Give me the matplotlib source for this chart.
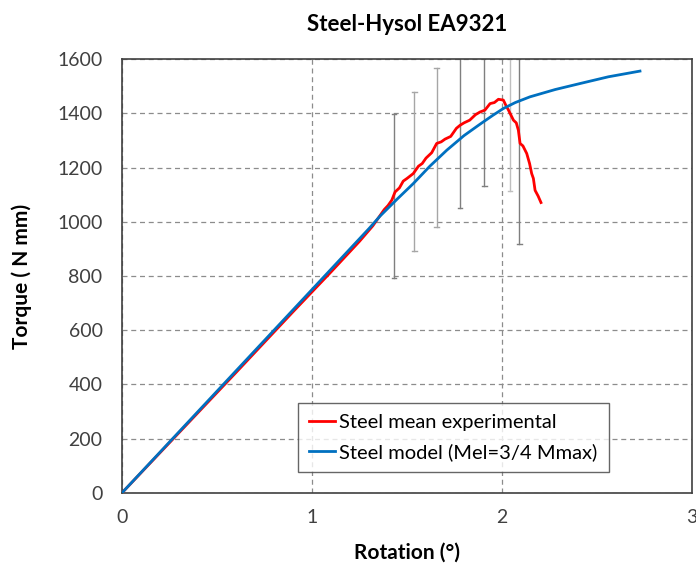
import matplotlib.pyplot as plt
import numpy as np

plt.rcParams['font.family'] = ['Lato', 'DejaVu Sans']

# mean experimental curve (Rotation deg, Torque N mm)
rot_exp = [0.0, 0.3, 0.6, 0.9, 1.1, 1.25, 1.32, 1.358, 1.38, 1.40, 1.42, 1.437, 1.46, 1.48,
           1.50, 1.533, 1.56, 1.58, 1.60, 1.63, 1.656, 1.68, 1.70, 1.73, 1.76, 1.779,
           1.80, 1.83, 1.86, 1.884, 1.91, 1.937, 1.96, 1.981, 2.007, 2.02, 2.034, 2.06,
           2.075, 2.086, 2.095, 2.11, 2.13, 2.145, 2.156, 2.165, 2.174, 2.19, 2.205]
torque_exp = [0, 222, 444, 668, 815, 928, 985, 1023, 1045, 1060, 1080, 1110, 1125, 1150,
              1160, 1178, 1205, 1215, 1235, 1255, 1289, 1295, 1305, 1315, 1345, 1356,
              1365, 1375, 1395, 1405, 1412, 1436, 1440, 1452, 1449, 1430, 1412, 1375,
              1365, 1338, 1289, 1280, 1252, 1215, 1178, 1160, 1116, 1095, 1071]

# model curve
rot_mod = [0.0, 0.5, 1.0, 1.2, 1.30, 1.358, 1.45, 1.533, 1.62, 1.709, 1.80, 1.884, 1.95,
           2.007, 2.07, 2.147, 2.28, 2.41, 2.56, 2.726]
torque_mod = [0, 375, 750, 900, 975, 1021, 1085, 1141, 1205, 1264, 1318, 1360, 1392,
              1418, 1440, 1461, 1488, 1510, 1535, 1556]

# scatter bars
rot_bar = [1.432, 1.538, 1.656, 1.779, 1.907, 2.042, 2.091]
bar_low = [791, 892, 980, 1051, 1131, 1112, 919]
bar_high = [1397, 1479, 1568, 1640, 1690, 1690, 1680]
bar_col = ['#7f7f7f', '#a6a6a6', '#a6a6a6', '#7f7f7f', '#7f7f7f', '#bfbfbf', '#7f7f7f']

fig = plt.figure(figsize=(6.96, 5.70), dpi=100)
ax = fig.add_axes([0.1753, 0.1354, 0.8190, 0.7608])

for x, lo, hi, c in zip(rot_bar, bar_low, bar_high, bar_col):
    ax.plot([x, x], [lo, hi], color=c, lw=1.0, zorder=2)
    ax.plot([x - 0.012, x + 0.012], [lo, lo], color=c, lw=1.0, zorder=2)
    ax.plot([x - 0.012, x + 0.012], [hi, hi], color=c, lw=1.0, zorder=2)

ax.plot(rot_exp, torque_exp, color='#ff0000', lw=2.0, zorder=3,
        label='Steel mean experimental')
ax.plot(rot_mod, torque_mod, color='#0070c0', lw=2.0, zorder=4,
        label='Steel model (Mel=3/4 Mmax)')

ax.set_xlim(0, 3)
ax.set_ylim(0, 1600)
ax.set_xticks([0, 1, 2, 3])
ax.set_yticks(np.arange(0, 1601, 200))
ax.tick_params(length=0, labelsize=14, colors='#404040')
ax.tick_params(axis='x', pad=12)
ax.tick_params(axis='y', pad=14)
ax.grid(True, ls=(0, (4, 3)), color='#8c8c8c', lw=0.9)
for s in ax.spines.values():
    s.set_color('#404040')
    s.set_linewidth(1.2)

ax.set_xlabel('Rotation (°)', fontsize=15, fontweight='bold', labelpad=12)
ax.set_ylabel('Torque ( N mm)', fontsize=15, fontweight='bold', labelpad=18)
ax.set_title('Steel-Hysol EA9321', fontsize=16, fontweight='bold', pad=20)

leg = ax.legend(loc='lower left', bbox_to_anchor=(0.309, 0.048), fontsize=14.5,
                frameon=True, fancybox=False, handlelength=1.3, handletextpad=0.2,
                borderpad=0.55, labelspacing=0.6, borderaxespad=0)
leg.get_frame().set_edgecolor('#404040')
leg.get_frame().set_linewidth(1.0)

fig.savefig('out.png', dpi=100)
